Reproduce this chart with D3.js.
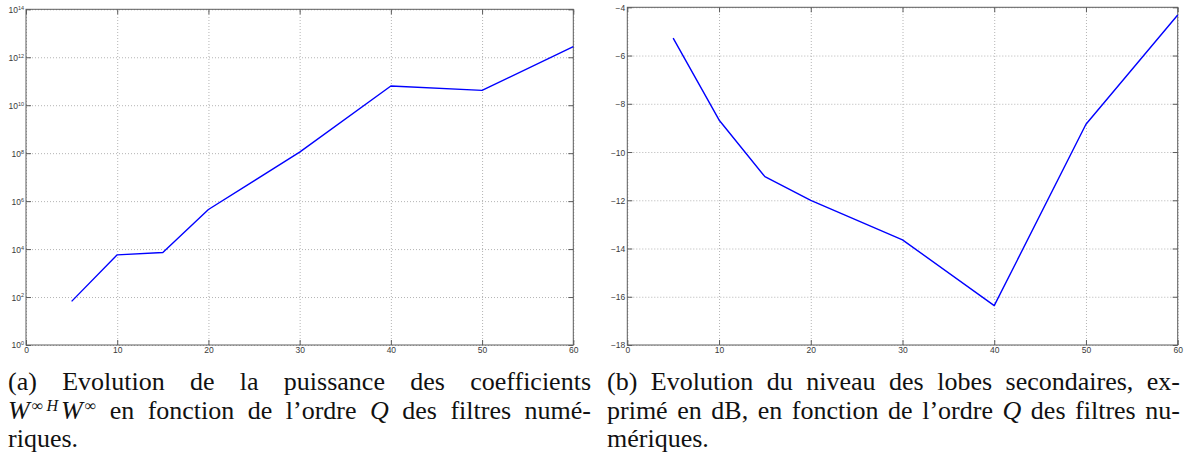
<!DOCTYPE html>
<html>
<head>
<meta charset="utf-8">
<script src="https://cdn.jsdelivr.net/npm/d3@7"></script>
<style>
  html, body { margin: 0; padding: 0; background: #fff; }
  svg { display: block; }
  .tick text { font-family: "Liberation Sans", Arial, sans-serif; fill: #3a3a3a; }
  .caption text { font-family: "Liberation Serif", "Times New Roman", serif; font-size: 26px; fill: #111; }
</style>
</head>
<body>
<script>
// Filter order Q
const orders = [5, 10, 15, 20, 30, 40, 50, 60];
// Power of the coefficients W^H W (linear, shown on a log axis)
const coeffPower = [66, 5750, 7240, 4.47e5, 1.1e8, 6.3e10, 4.17e10, 2.75e12];
// Secondary lobe level in dB
const lobeLevelDb = [-5.28, -8.67, -11.02, -12.0, -13.64, -16.37, -8.85, -4.32];

// Tick values
const xTickValues = [0, 10, 20, 30, 40, 50, 60];
const logExponents = [0, 2, 4, 6, 8, 10, 12, 14];
const dbTickValues = [-18, -16, -14, -12, -10, -8, -6, -4];

// Caption words, one array per line; "it" marks italic, "sup" marks superscript pieces,
// "kern" adds a little horizontal room before a piece
const captionA = [
  [["(a)"], ["Evolution"], ["de"], ["la"], ["puissance"], ["des"], ["coefficients"]],
  [[{t: "W", it: 1}, {t: "\u221E", sup: 1, kern: 2}, {t: "\u2009H", sup: 1, it: 1}, {t: "W", it: 1, kern: 3}, {t: "\u221E", sup: 1, kern: 2}],
   ["en"], ["fonction"], ["de"], ["l\u2019ordre"], [{t: "Q", it: 1}], ["des"], ["filtres"], ["num\u00E9-"]],
  [["riques."]]
];
const captionB = [
  [["(b)"], ["Evolution"], ["du"], ["niveau"], ["des"], ["lobes"], ["secondaires,"], ["ex-"]],
  [["prim\u00E9"], ["en"], ["dB,"], ["en"], ["fonction"], ["de"], ["l\u2019ordre"], [{t: "Q", it: 1}], ["des"], ["filtres"], ["nu-"]],
  [["m\u00E9riques."]]
];

const W = 1191, H = 457;
const svg = d3.select("body").append("svg").attr("width", W).attr("height", H);

const frameColor = "#5c5c5c";
const gridColor = "#b4b4b4";
const tickLen = 5;

function drawPanel(opts) {
  const { left, right, top, bottom, y, data, yTicks, yLabel } = opts;
  const x = d3.scaleLinear().domain([0, 60]).range([left, right]);
  const g = svg.append("g");

  // dotted grid
  const gx = g.append("g").attr("transform", `translate(0,${bottom})`)
    .call(d3.axisBottom(x).tickValues(xTickValues).tickSize(-(bottom - top)).tickFormat(""));
  const gy = g.append("g").attr("transform", `translate(${left},0)`)
    .call(d3.axisLeft(y).tickValues(yTicks).tickSize(-(right - left)).tickFormat(""));
  [gx, gy].forEach(s => {
    s.select(".domain").remove();
    s.selectAll(".tick line").attr("stroke", gridColor).attr("stroke-dasharray", "1,2").attr("stroke-width", 1);
  });

  // frame
  g.append("rect").attr("x", left).attr("y", top).attr("width", right - left).attr("height", bottom - top)
    .attr("fill", "none").attr("stroke", frameColor).attr("stroke-width", 1);

  // inward ticks on all four sides, labels on bottom and left
  const axB = g.append("g").attr("transform", `translate(0,${bottom})`)
    .call(d3.axisBottom(x).tickValues(xTickValues).tickSizeInner(-tickLen).tickSizeOuter(0).tickPadding(4).tickFormat(d3.format("d")));
  const axT = g.append("g").attr("transform", `translate(0,${top})`)
    .call(d3.axisTop(x).tickValues(xTickValues).tickSizeInner(-tickLen).tickSizeOuter(0).tickFormat(""));
  const axL = g.append("g").attr("transform", `translate(${left},0)`)
    .call(d3.axisLeft(y).tickValues(yTicks).tickSizeInner(-tickLen).tickSizeOuter(0).tickPadding(3).tickFormat(""));
  const axR = g.append("g").attr("transform", `translate(${right},0)`)
    .call(d3.axisRight(y).tickValues(yTicks).tickSizeInner(-tickLen).tickSizeOuter(0).tickFormat(""));
  [axB, axT, axL, axR].forEach(s => {
    s.select(".domain").remove();
    s.selectAll(".tick line").attr("stroke", frameColor);
  });
  axB.selectAll(".tick text").attr("font-size", 8.5).attr("dy", "0.6em").attr("y", 3);
  axL.selectAll(".tick text").attr("font-size", 8.5).attr("text-anchor", "end").attr("dy", "0.35em").attr("x", -2)
    .each(function (d) { yLabel(d3.select(this), d); });

  // data line
  const line = d3.line().x((d, i) => x(orders[i])).y(d => y(d));
  g.append("path").datum(data).attr("d", line)
    .attr("fill", "none").attr("stroke", "#0000ff").attr("stroke-width", 1.4).attr("stroke-linejoin", "round");
}

// (a) coefficient power, log axis
drawPanel({
  left: 26, right: 573.3, top: 9.3, bottom: 345,
  y: d3.scaleLog().domain([1, 1e14]).range([345, 9.3]),
  data: coeffPower,
  yTicks: logExponents.map(e => Math.pow(10, e)),
  yLabel: (t, d) => {
    const e = Math.round(Math.log10(d));
    t.append("tspan").text("10");
    t.append("tspan").attr("font-size", 5.5).attr("dy", "-0.55em").text(e);
  }
});

// (b) lobe level, linear dB axis
drawPanel({
  left: 627.3, right: 1177.7, top: 7.3, bottom: 345,
  y: d3.scaleLinear().domain([-18, -4]).range([345, 7.3]),
  data: lobeLevelDb,
  yTicks: dbTickValues,
  yLabel: (t, d) => { t.text(d3.format("d")(d)); }
});

// Justified captions
const capSize = 26;
const supRaise = 8;
function drawCaption(lines, x0, x1, baselines) {
  const g = svg.append("g").attr("class", "caption");
  lines.forEach((words, li) => {
    const nodes = words.map(w => {
      const t = g.append("text").attr("y", baselines[li]);
      let shifted = false;
      let extra = 0;
      w.forEach(p => {
        const seg = (typeof p === "string") ? { t: p } : p;
        const ts = t.append("tspan").text(seg.t);
        if (seg.it) ts.style("font-style", "italic");
        if (seg.kern) { ts.attr("dx", seg.kern); extra += seg.kern; }
        if (seg.sup) {
          ts.style("font-size", (capSize * 0.62) + "px");
          if (!shifted) { ts.attr("dy", -supRaise); shifted = true; }
        } else if (shifted) {
          ts.attr("dy", supRaise); shifted = false;
        }
      });
      t.datum(extra);
      return t;
    });
    const widths = nodes.map(n => n.node().getComputedTextLength() + n.datum());
    const total = d3.sum(widths);
    const last = li === lines.length - 1;
    const gap = last ? capSize * 0.3 : (x1 - x0 - total) / (nodes.length - 1);
    let cx = x0;
    nodes.forEach((n, i) => { n.attr("x", cx); cx += widths[i] + gap; });
  });
}
drawCaption(captionA, 8, 591, [390, 419, 447]);
drawCaption(captionB, 607, 1180, [390, 419, 447]);
</script>
</body>
</html>
